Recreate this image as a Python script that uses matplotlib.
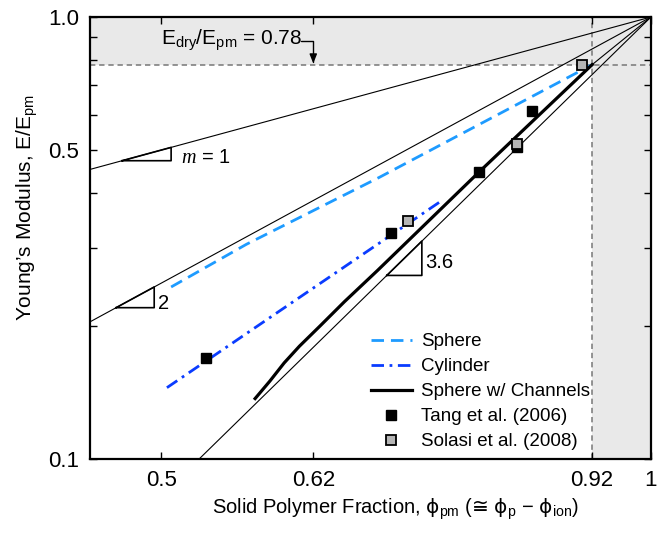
import numpy as np
import matplotlib
matplotlib.use("Agg")
import matplotlib.pyplot as plt
from matplotlib.ticker import FixedLocator, FixedFormatter, NullLocator

plt.rcParams['font.family'] = ['Liberation Sans', 'DejaVu Sans']
plt.rcParams['mathtext.fontset'] = 'custom'
plt.rcParams['mathtext.rm'] = 'Liberation Sans'
plt.rcParams['mathtext.it'] = 'Liberation Serif:italic'
plt.rcParams['mathtext.sf'] = 'DejaVu Sans'
plt.rcParams['mathtext.default'] = 'regular'

# model curves
sphere_x = [0.507, 0.564, 0.681, 0.92]
sphere_y = [0.245, 0.306, 0.434, 0.78]
cyl_x = [0.504, 0.608, 0.745]
cyl_y = [0.145, 0.232, 0.386]
chan_x = [0.571, 0.583, 0.595, 0.608, 0.626, 0.648, 0.679, 0.784, 0.92]
chan_y = [0.137, 0.150, 0.165, 0.180, 0.200, 0.227, 0.267, 0.446, 0.78]

# experiments
tang_x = [0.533, 0.692, 0.784, 0.827, 0.845]
tang_y = [0.169, 0.325, 0.446, 0.508, 0.613]
solasi_x = [0.709, 0.827, 0.907]
solasi_y = [0.346, 0.516, 0.779]

# guide lines through (1,1)
slopes = [1, 2, 3.6]
slope_tri = [(0.473, 0.507), (0.469, 0.495), (0.688, 0.723)]
e_dry = 0.78
phi_dry = 0.92

xlim = (0.452, 1.0)
ylim = (0.1, 1.0)
xticks = [0.5, 0.62, 0.92, 1.0]
xticklabels = ['0.5', '0.62', '0.92', '1']
yticks = [0.1, 0.5, 1.0]
yticklabels = ['0.1', '0.5', '1.0']

fig = plt.figure(figsize=(6.67, 5.33), dpi=100)
ax = fig.add_axes([90/667, 1-459/533, 561/667, 442/533])
ax.set_xscale('log')
ax.set_yscale('log')
ax.set_xlim(*xlim)
ax.set_ylim(*ylim)

# shaded regions + dashed limits
ax.axhspan(e_dry, ylim[1], color='#e9e9e9', zorder=0, lw=0)
ax.axvspan(phi_dry, xlim[1], color='#e9e9e9', zorder=0, lw=0)
ax.axhline(e_dry, color='#777777', lw=1.1, ls=(0, (3.5, 2.5)), zorder=1)
ax.axvline(phi_dry, color='#777777', lw=1.1, ls=(0, (3.5, 2.5)), zorder=1)

# power-law guides
for m in slopes:
    gx = np.array(xlim)
    ax.plot(gx, gx**m, color='k', lw=0.8, zorder=2)
ax.plot([phi_dry, 1.0], [e_dry, 1.0], color='k', lw=0.8, zorder=2)

# slope triangles
for m, (x0, x1) in zip(slopes, slope_tri):
    ax.plot([x0, x1, x1, x0], [x0**m, x0**m, x1**m, x0**m], color='k', lw=1.2, zorder=2)

ax.plot(sphere_x, sphere_y, color='#1e9bff', lw=2.0, ls=(0, (4.5, 2.5)), label='Sphere', zorder=3)
ax.plot(cyl_x, cyl_y, color='#0a3cff', lw=2.0, ls=(0, (4.5, 2, 1, 2)), label='Cylinder', zorder=3)
ax.plot(chan_x, chan_y, color='k', lw=2.3, label='Sphere w/ Channels', zorder=3)
ax.plot(tang_x, tang_y, ls='none', marker='s', ms=6.5, mfc='k', mec='k',
        label='Tang et al. (2006)', zorder=4)
ax.plot(solasi_x, solasi_y, ls='none', marker='s', ms=6.5, mfc='#b5b5b5', mec='k',
        mew=1.3, label='Solasi et al. (2008)', zorder=5)

# labels on the guides
ax.text(0.514, 0.4815, r'$\mathit{m}$ = 1', fontsize=14.5, va='center', ha='left')
ax.text(0.498, 0.2245, '2', fontsize=14.5, va='center', ha='left')
ax.text(0.726, 0.2786, '3.6', fontsize=14.5, va='center', ha='left')

ax.text(0.5, 0.864, r'E$_{dry}$/E$_{pm}$ = 0.78', fontsize=15, va='baseline', ha='left')
ax.annotate('', xy=(0.62, 0.785), xytext=(0.609, 0.882),
            arrowprops=dict(arrowstyle='-|>,head_length=0.55,head_width=0.22', color='k', lw=1.0,
                            shrinkA=0, shrinkB=0,
                            connectionstyle='angle,angleA=0,angleB=90,rad=0'))

# ticks
ax.xaxis.set_major_locator(FixedLocator(xticks))
ax.xaxis.set_major_formatter(FixedFormatter(xticklabels))
ax.xaxis.set_minor_locator(NullLocator())
ax.yaxis.set_major_locator(FixedLocator(yticks))
ax.yaxis.set_major_formatter(FixedFormatter(yticklabels))
ax.yaxis.set_minor_locator(FixedLocator([0.2, 0.3, 0.4, 0.6, 0.7, 0.8, 0.9]))
ax.tick_params(which='both', direction='in', top=True, right=True, length=5, width=1.0,
               labelsize=16, pad=8)
ax.tick_params(which='minor', labelleft=False)
for s in ax.spines.values():
    s.set_linewidth(1.6)

ax.set_xlabel('Solid Polymer Fraction, $\\mathsf{\u03d5}_{pm}$ ($\\mathsf{\u2245}$ '
              '$\\mathsf{\u03d5}_p$ \u2212 $\\mathsf{\u03d5}_{ion}$)', fontsize=14.5)
ax.set_ylabel('Young\u2019s Modulus, E/E$_{pm}$', fontsize=15)
ax.xaxis.set_label_coords(0.544, -0.085)
ax.yaxis.set_label_coords(-0.09, 0.57)

ax.legend(loc='lower left', bbox_to_anchor=(0.50, 0.02), frameon=False, fontsize=13.5,
          handlelength=2.2, handletextpad=0.5, labelspacing=0.42, borderaxespad=0, borderpad=0)

fig.savefig('out.png', dpi=100)
